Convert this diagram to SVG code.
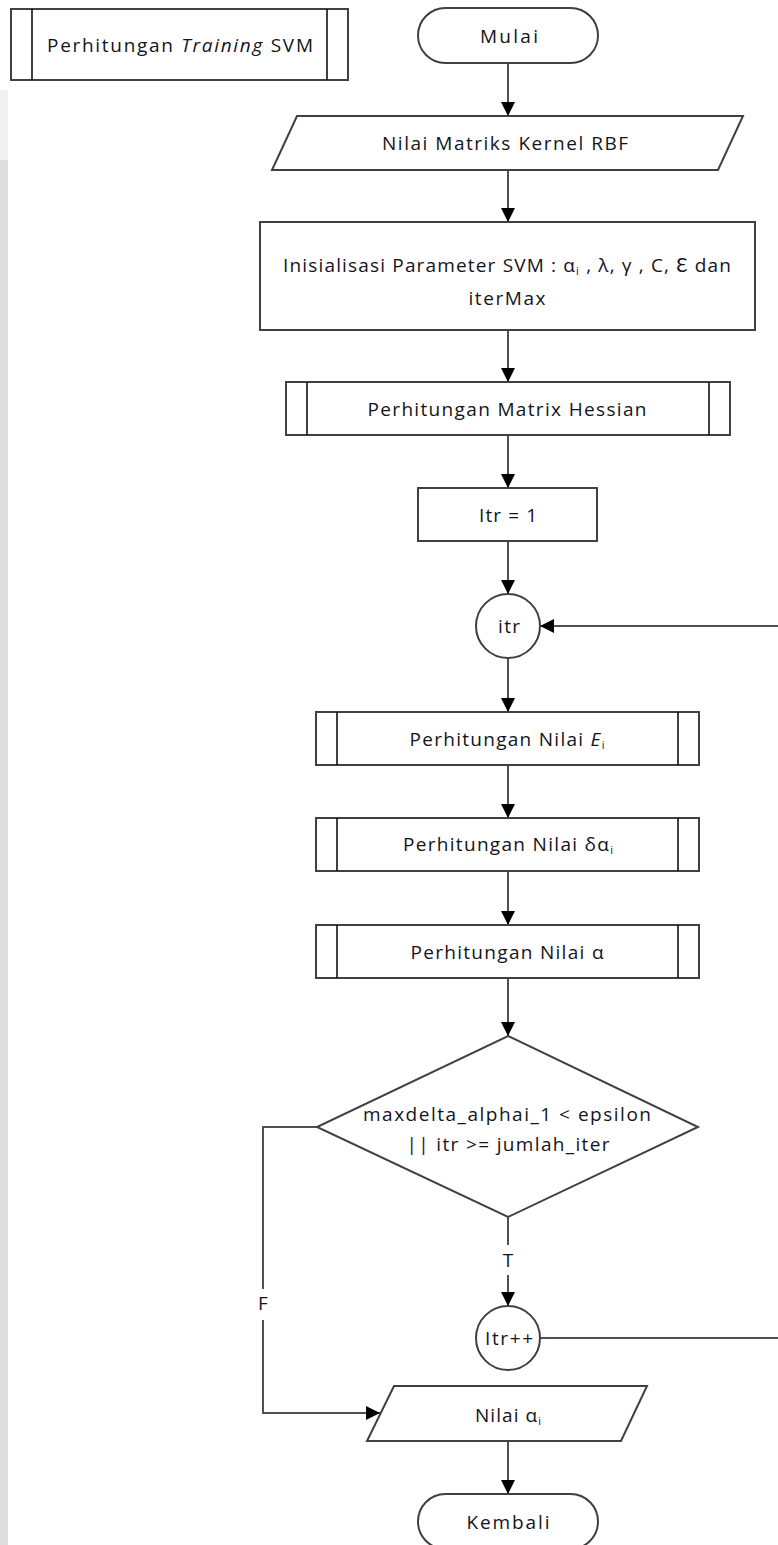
<svg xmlns="http://www.w3.org/2000/svg" width="778" height="1545" viewBox="0 0 778 1545">
  <defs>
    <marker id="arrow" viewBox="0 0 10 10" refX="10" refY="5" markerWidth="14" markerHeight="14" markerUnits="userSpaceOnUse" orient="auto">
      <path d="M0,0 L10,5 L0,10 z" fill="#000"/>
    </marker>
    <style>
      .shape { fill: #fff; stroke: #404040; stroke-width: 2; }
      .bar { stroke: #111; stroke-width: 1.6; }
      .conn { fill: none; stroke: #505050; stroke-width: 2; }
      .txt { font-family: "Open Sans", Lato, "Liberation Sans", sans-serif; font-size: 19px; fill: #141420; text-anchor: middle; }
      .sub { font-size: 11px; }
      .lbl { fill: #fff; stroke: none; }
    </style>
  </defs>

  <rect width="778" height="1545" fill="#fff"/>
  <!-- faint page edge shading -->
  <rect x="0" y="160" width="8" height="1385" fill="#dedede"/>
  <rect x="0" y="90" width="8" height="70" fill="#f0f0f0"/>

  <!-- connectors -->
  <g id="connectors">
    <line class="conn" x1="508" y1="63" x2="508" y2="116" marker-end="url(#arrow)"/>
    <line class="conn" x1="508" y1="170" x2="508" y2="222" marker-end="url(#arrow)"/>
    <line class="conn" x1="508" y1="330" x2="508" y2="382" marker-end="url(#arrow)"/>
    <line class="conn" x1="508" y1="435" x2="508" y2="488" marker-end="url(#arrow)"/>
    <line class="conn" x1="508" y1="541" x2="508" y2="594" marker-end="url(#arrow)"/>
    <line class="conn" x1="508" y1="658" x2="508" y2="712" marker-end="url(#arrow)"/>
    <line class="conn" x1="508" y1="765" x2="508" y2="818" marker-end="url(#arrow)"/>
    <line class="conn" x1="508" y1="871" x2="508" y2="925" marker-end="url(#arrow)"/>
    <line class="conn" x1="508" y1="978" x2="508" y2="1036" marker-end="url(#arrow)"/>
    <!-- T branch -->
    <line class="conn" x1="508" y1="1217" x2="508" y2="1306" marker-end="url(#arrow)"/>
    <rect class="lbl" x="499" y="1245" width="18" height="30"/>
    <text class="txt" x="508" y="1267">T</text>
    <!-- loop back to itr -->
    <path class="conn" d="M540,1338 H790 V626 H540" marker-end="url(#arrow)"/>
    <!-- F branch -->
    <path class="conn" d="M317,1127 H263 V1413 H380" marker-end="url(#arrow)"/>
    <rect class="lbl" x="254" y="1289" width="18" height="31"/>
    <text class="txt" x="263" y="1310">F</text>
    <line class="conn" x1="508" y1="1441" x2="508" y2="1494" marker-end="url(#arrow)"/>
  </g>

  <g id="node-training">
    <rect class="shape" x="11" y="9" width="337" height="71"/>
    <line class="bar" x1="32" y1="9" x2="32" y2="80"/>
    <line class="bar" x1="327" y1="9" x2="327" y2="80"/>
    <text class="txt" x="180" y="52" textLength="266" lengthAdjust="spacing">Perhitungan <tspan font-style="italic">Training</tspan> SVM</text>
  </g>

  <g id="node-mulai">
    <rect class="shape" x="418" y="8" width="180" height="55" rx="27.5"/>
    <text class="txt" x="509" y="43" textLength="58" lengthAdjust="spacing">Mulai</text>
  </g>

  <g id="node-kernel">
    <polygon class="shape" points="297,116 743,116 718,170 272,170"/>
    <text class="txt" x="505" y="150" textLength="246" lengthAdjust="spacing">Nilai Matriks Kernel RBF</text>
  </g>

  <g id="node-init">
    <rect class="shape" x="260" y="222" width="495" height="108"/>
    <text class="txt" x="507" y="272" textLength="448" lengthAdjust="spacing">Inisialisasi Parameter SVM : α<tspan class="sub" dy="3">i</tspan><tspan dy="-3"> , λ, γ , C, Ɛ dan</tspan></text>
    <text class="txt" x="507" y="305" textLength="77" lengthAdjust="spacing">iterMax</text>
  </g>

  <g id="node-hessian">
    <rect class="shape" x="286" y="382" width="444" height="53"/>
    <line class="bar" x1="307" y1="382" x2="307" y2="435"/>
    <line class="bar" x1="709" y1="382" x2="709" y2="435"/>
    <text class="txt" x="507" y="416" textLength="279" lengthAdjust="spacing">Perhitungan Matrix Hessian</text>
  </g>

  <g id="node-itr-init">
    <rect class="shape" x="418" y="488" width="179" height="53"/>
    <text class="txt" x="508" y="522" textLength="58" lengthAdjust="spacing">Itr = 1</text>
  </g>

  <g id="node-itr">
    <circle class="shape" cx="508" cy="626" r="32"/>
    <text class="txt" x="509" y="633" textLength="22" lengthAdjust="spacing">itr</text>
  </g>

  <g id="node-ei">
    <rect class="shape" x="316" y="712" width="383" height="53"/>
    <line class="bar" x1="337" y1="712" x2="337" y2="765"/>
    <line class="bar" x1="678" y1="712" x2="678" y2="765"/>
    <text class="txt" x="507" y="746" textLength="195" lengthAdjust="spacing">Perhitungan Nilai <tspan font-style="italic">E</tspan><tspan class="sub" dy="3">i</tspan></text>
  </g>

  <g id="node-delta">
    <rect class="shape" x="316" y="818" width="383" height="53"/>
    <line class="bar" x1="337" y1="818" x2="337" y2="871"/>
    <line class="bar" x1="678" y1="818" x2="678" y2="871"/>
    <text class="txt" x="508" y="851" textLength="210" lengthAdjust="spacing">Perhitungan Nilai δα<tspan class="sub" dy="3">i</tspan></text>
  </g>

  <g id="node-alpha">
    <rect class="shape" x="316" y="925" width="383" height="53"/>
    <line class="bar" x1="337" y1="925" x2="337" y2="978"/>
    <line class="bar" x1="678" y1="925" x2="678" y2="978"/>
    <text class="txt" x="507" y="959" textLength="193" lengthAdjust="spacing">Perhitungan Nilai α</text>
  </g>

  <g id="node-decision">
    <polygon class="shape" points="508,1036 698,1127 508,1217 317,1127"/>
    <text class="txt" x="507" y="1121" textLength="288" lengthAdjust="spacing">maxdelta_alphai_1 &lt; epsilon</text>
    <text class="txt" x="508" y="1151" textLength="203" lengthAdjust="spacing">|| itr &gt;= jumlah_iter</text>
  </g>

  <g id="node-itr-inc">
    <circle class="shape" cx="508" cy="1338" r="32"/>
    <text class="txt" x="509" y="1345" textLength="48" lengthAdjust="spacing">Itr++</text>
  </g>

  <g id="node-output">
    <polygon class="shape" points="394,1386 647,1386 621,1441 367,1441"/>
    <text class="txt" x="508" y="1422" textLength="66" lengthAdjust="spacing">Nilai α<tspan class="sub" dy="3">i</tspan></text>
  </g>

  <g id="node-kembali">
    <rect class="shape" x="418" y="1494" width="180" height="55" rx="27.5"/>
    <text class="txt" x="508" y="1529" textLength="83" lengthAdjust="spacing">Kembali</text>
  </g>
</svg>
